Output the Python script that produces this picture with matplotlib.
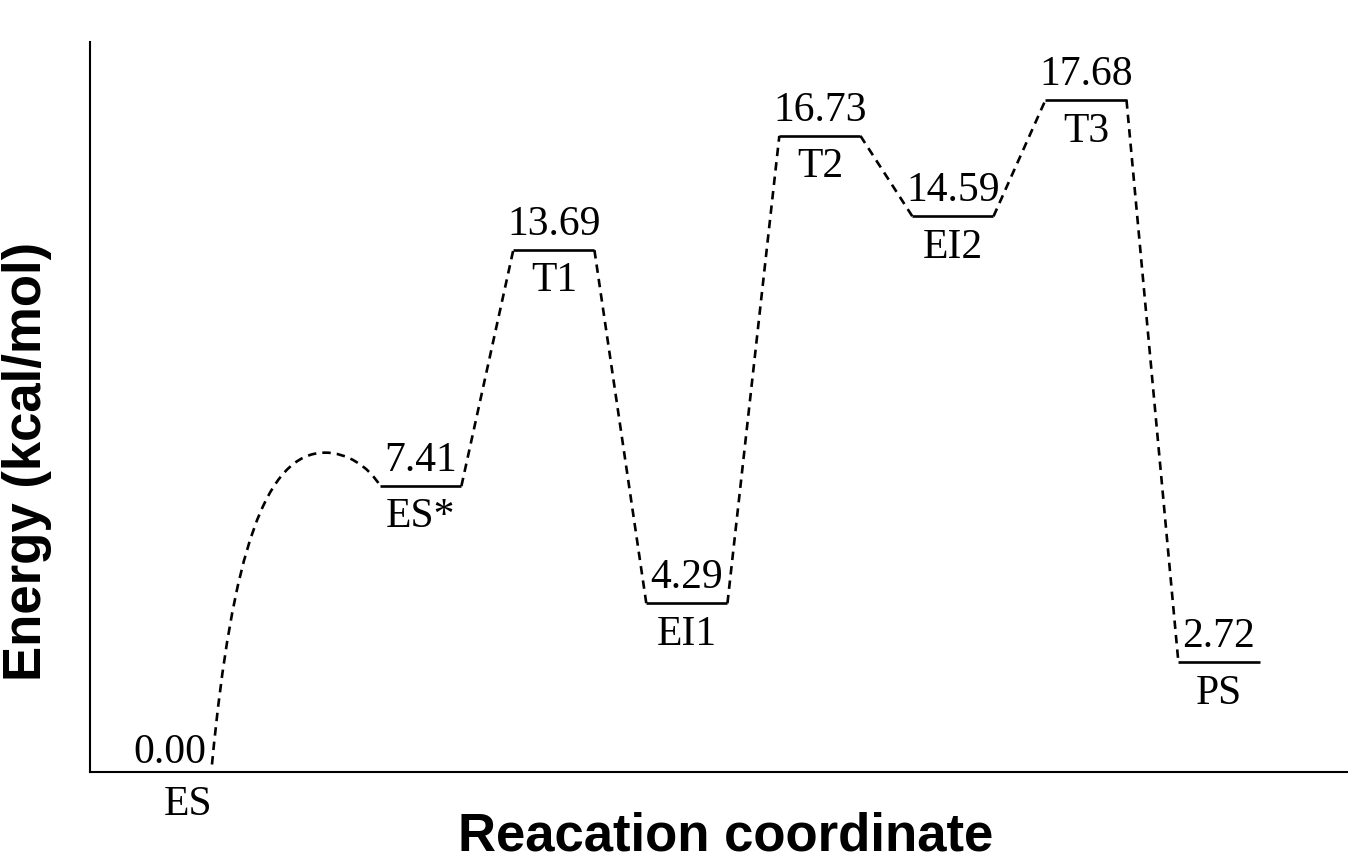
import numpy as np
import matplotlib
matplotlib.use("Agg")
import matplotlib.pyplot as plt
from matplotlib.path import Path
from matplotlib.patches import PathPatch

# energy profile (kcal/mol)
stages = ["ES", "ES*", "T1", "EI1", "T2", "EI2", "T3", "PS"]
energies = [0.00, 7.41, 13.69, 4.29, 16.73, 14.59, 17.68, 2.72]
hump_energy = 8.3  # unlabelled barrier between ES and ES*

first_gap = 1.57   # ES -> ES* spacing (in stage units)
half = 0.305       # half width of a level bar

xpos = np.concatenate([[0.0], first_gap + np.arange(len(stages) - 1)])

fig = plt.figure(figsize=(13.48, 8.6), dpi=100)
ax = fig.add_axes([90 / 1348, 88 / 860, 1258 / 1348, 730 / 860])

serif = "Liberation Serif"
lw = 1.9
dash = (3.2, 2.3)

# level bars (ES has none, the curve starts right on it)
for x, e in zip(xpos[1:], energies[1:]):
    ax.plot([x - half, x + half], [e, e], color="black", lw=lw,
            solid_capstyle="butt")

# dashed connectors between consecutive levels
for i in range(1, len(stages) - 1):
    ax.plot([xpos[i] + half, xpos[i + 1] - half], [energies[i], energies[i + 1]],
            color="black", lw=lw, linestyle=(0, dash))

# curved barrier from ES up and down into ES*
x0, e0 = xpos[0], energies[0]
x1, e1 = xpos[1] - half, energies[1]
xp = x0 + 0.85
verts = [(x0, e0), (x0 + 0.15, 5.6), (x0 + 0.40, hump_energy), (xp, hump_energy),
         (xp + 0.16, hump_energy), (x1 - 0.09, 7.95), (x1, e1)]
codes = [Path.MOVETO] + [Path.CURVE4] * 6
ax.add_patch(PathPatch(Path(verts, codes), fill=False, edgecolor="black",
                       lw=lw, linestyle=(0, dash)))

# labels
for i, (x, e, name) in enumerate(zip(xpos, energies, stages)):
    if i == 0:
        ax.annotate(f"{e:.2f}", (x, e), xytext=(-4, 1), textcoords="offset points",
                    ha="right", va="baseline", fontsize=30, family=serif)
        ax.annotate(name, (x - 0.18, e), xytext=(0, -15), textcoords="offset points",
                    ha="center", va="top", fontsize=30, family=serif,
                    annotation_clip=False)
        continue
    ax.annotate(f"{e:.2f}", (x, e), xytext=(0, 11), textcoords="offset points",
                ha="center", va="baseline", fontsize=30, family=serif)
    ax.annotate(name, (x, e), xytext=(0, -8.5), textcoords="offset points",
                ha="center", va="top", fontsize=30, family=serif)

ax.set_xlim(-0.917, 8.54)
ax.set_ylim(-0.2, 19.23)
ax.set_xticks([])
ax.set_yticks([])
for s in ["top", "right"]:
    ax.spines[s].set_visible(False)
for s in ["left", "bottom"]:
    ax.spines[s].set_linewidth(1.5)

ax.set_xlabel("Reacation coordinate", fontsize=38, fontweight="bold",
              family="Liberation Sans", va="top")
ax.xaxis.set_label_coords(0.505, -0.054)
ax.set_ylabel("Energy (kcal/mol)", fontsize=38, fontweight="bold",
              family="Liberation Sans")
ax.yaxis.set_label_coords(-0.030, 0.425)

fig.savefig("out.png", dpi=100)
